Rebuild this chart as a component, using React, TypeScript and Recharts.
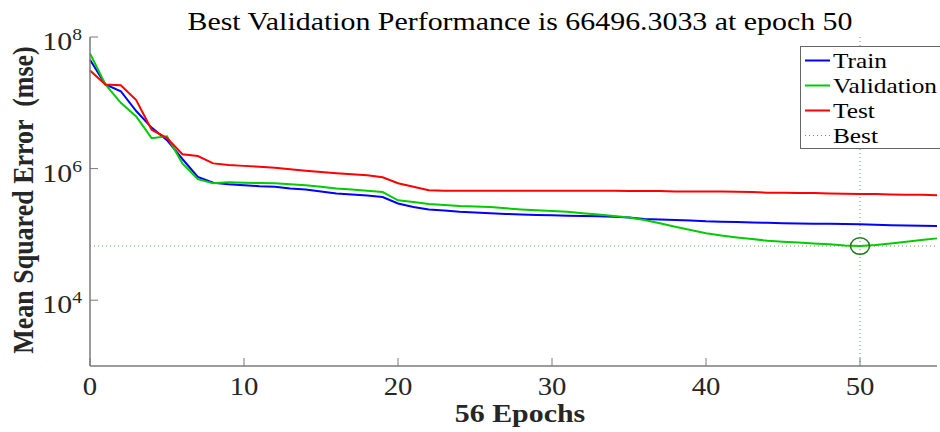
import React from 'react';
import { LineChart, Line, XAxis, YAxis, ReferenceLine, ReferenceDot, Legend, Customized } from 'recharts';

// MATLAB nntraining performance plot: mse per epoch (log scale)
const epochs = [
  0, 1, 2, 3, 4, 5, 6, 7, 8, 9, 10, 11, 12, 13, 14, 15, 16, 17, 18, 19, 20, 21, 22, 23, 24, 25, 26, 27,
  28, 29, 30, 31, 32, 33, 34, 35, 36, 37, 38, 39, 40, 41, 42, 43, 44, 45, 46, 47, 48, 49, 50, 51, 52, 53, 54, 55,
];
const trainMse = [
  4.5e7, 1.9e7, 1.5e7, 7.5e6, 4.2e6, 2.7e6, 1.4e6, 7.5e5, 6.1e5, 5.8e5, 5.6e5, 5.4e5, 5.3e5, 5.0e5,
  4.8e5, 4.5e5, 4.2e5, 4.05e5, 3.9e5, 3.7e5, 2.95e5, 2.6e5, 2.4e5, 2.3e5, 2.2e5, 2.15e5, 2.1e5, 2.05e5,
  2.0e5, 1.97e5, 1.95e5, 1.92e5, 1.9e5, 1.88e5, 1.86e5, 1.8e5, 1.71e5, 1.68e5, 1.66e5, 1.62e5, 1.58e5, 1.56e5,
  1.55e5, 1.52e5, 1.5e5, 1.48e5, 1.46e5, 1.45e5, 1.45e5, 1.44e5, 1.43e5, 1.4e5, 1.38e5, 1.36e5, 1.35e5, 1.34e5,
];
const validationMse = [
  5.6e7, 1.9e7, 1.0e7, 6.2e6, 2.9e6, 3.1e6, 1.2e6, 6.9e5, 6.0e5, 6.2e5, 6.1e5, 6.05e5, 6.0e5, 5.8e5,
  5.6e5, 5.3e5, 5.0e5, 4.8e5, 4.6e5, 4.4e5, 3.3e5, 3.1e5, 2.9e5, 2.8e5, 2.7e5, 2.65e5, 2.6e5, 2.5e5,
  2.4e5, 2.33e5, 2.27e5, 2.2e5, 2.1e5, 2.0e5, 1.9e5, 1.8e5, 1.65e5, 1.48e5, 1.31e5, 1.17e5, 1.04e5, 9.6e4,
  9.0e4, 8.5e4, 8.0e4, 7.7e4, 7.5e4, 7.3e4, 7.1e4, 6.8e4, 66496.3033, 6.9e4, 7.3e4, 7.7e4, 8.2e4, 8.7e4,
];
const testMse = [
  3.1e7, 1.9e7, 1.85e7, 1.1e7, 3.9e6, 2.9e6, 1.65e6, 1.55e6, 1.2e6, 1.13e6, 1.1e6, 1.07e6, 1.03e6, 9.8e5,
  9.3e5, 8.9e5, 8.5e5, 8.2e5, 7.9e5, 7.4e5, 6.0e5, 5.3e5, 4.7e5, 4.6e5, 4.6e5, 4.6e5, 4.6e5, 4.6e5,
  4.6e5, 4.6e5, 4.6e5, 4.6e5, 4.6e5, 4.6e5, 4.6e5, 4.55e5, 4.55e5, 4.55e5, 4.5e5, 4.5e5, 4.5e5, 4.5e5,
  4.45e5, 4.4e5, 4.3e5, 4.3e5, 4.25e5, 4.25e5, 4.2e5, 4.15e5, 4.1e5, 4.1e5, 4.05e5, 4.0e5, 4.0e5, 3.95e5,
];
const bestEpoch = 50;
const bestValue = 66496.3033;
const xTicks = [0, 10, 20, 30, 40, 50];
const yTicks = [1e4, 1e6, 1e8];
const legendLabels = ['Train', 'Validation', 'Test', 'Best'];

const data = epochs.map((epoch, i) => ({
  epoch,
  train: trainMse[i],
  validation: validationMse[i],
  test: testMse[i],
}));

const SERIF = '"Liberation Serif", "Times New Roman", serif';
const STRETCH = 1.15; // the source image is a bit wider than tall
const AXIS = '#7a7a7a';
const INK = '#262626';
const colors = { train: '#0000ff', validation: '#00cc00', test: '#ff0000', best: '#4daf4a' };

const XTick = (props: any) => {
  const { x, y, payload } = props;
  return (
    <g transform={`translate(${x},${y}) scale(${STRETCH},1)`}>
      <text x={0} y={29} textAnchor="middle" fontFamily={SERIF} fontSize={25} fill={INK}>
        {payload.value}
      </text>
    </g>
  );
};

const YTick = (props: any) => {
  const { x, y, payload } = props;
  const exp = Math.round(Math.log10(payload.value));
  return (
    <g transform={`translate(${x},${y}) scale(${STRETCH},1)`}>
      <text x={0} y={13} textAnchor="end" fontFamily={SERIF} fill={INK}>
        <tspan fontSize={26}>10</tspan>
        <tspan fontSize={17} dy={-10}>{exp}</tspan>
      </text>
    </g>
  );
};

const Titles = () => (
  <g>
    <g transform={`translate(520,30) scale(${STRETCH},1)`}>
      <text textAnchor="middle" fontFamily={SERIF} fontSize={26} fill="#000">
        Best Validation Performance is 66496.3033 at epoch 50
      </text>
    </g>
    <g transform={`translate(520,422) scale(${STRETCH},1)`}>
      <text textAnchor="middle" fontFamily={SERIF} fontSize={26} fontWeight="bold" fill={INK}>
        56 Epochs
      </text>
    </g>
    <g transform={`translate(33,200) scale(${STRETCH},1) rotate(-90)`}>
      <text textAnchor="middle" fontFamily={SERIF} fontSize={26} fontWeight="bold" fill={INK} style={{ whiteSpace: 'pre' }}>
        {'Mean Squared Error  (mse)'}
      </text>
    </g>
  </g>
);

const legendStroke = [colors.train, colors.validation, colors.test, colors.best];

const renderLegend = () => (
  <div
    style={{
      boxSizing: 'border-box',
      width: 141,
      height: 103,
      paddingTop: 1,
      border: '1px solid #666',
      background: '#fff',
    }}
  >
    {legendLabels.map((label, i) => (
      <div key={label} style={{ height: 25, display: 'flex', alignItems: 'center' }}>
        <svg width={30} height={25} style={{ flex: 'none' }}>
          <line
            x1={4}
            x2={29}
            y1={12.5}
            y2={12.5}
            stroke={legendStroke[i]}
            strokeWidth={label === 'Best' ? 1 : 2}
            strokeDasharray={label === 'Best' ? '1 3' : undefined}
          />
        </svg>
        <span
          style={{
            display: 'inline-block',
            marginLeft: 2,
            fontFamily: SERIF,
            fontSize: 22,
            lineHeight: '25px',
            color: '#000',
            transform: `scaleX(${STRETCH})`,
            transformOrigin: 'left center',
            whiteSpace: 'nowrap',
          }}
        >
          {label}
        </span>
      </div>
    ))}
  </div>
);

const BestCircle = (props: any) => {
  const { cx, cy } = props;
  return <ellipse cx={cx} cy={cy} rx={9.5} ry={8.3} fill="none" stroke="#1b7a1b" strokeWidth={1.5} />;
};

export default function App() {
  return (
    <div style={{ position: 'absolute', left: 0, top: 0, width: 940, height: 432, overflow: 'hidden', background: '#fff' }}>
      <LineChart width={940} height={432} data={data} margin={{ top: 37, right: 3, left: 30, bottom: 36 }}>
        <XAxis
          dataKey="epoch"
          type="number"
          domain={[0, 55]}
          ticks={xTicks}
          height={30}
          stroke={AXIS}
          tickSize={-8}
          tickMargin={8}
          tick={<XTick />}
          axisLine={{ stroke: AXIS, strokeWidth: 1.5 }}
          tickLine={{ stroke: AXIS }}
        />
        <YAxis
          type="number"
          scale="log"
          domain={[1e3, 1e8]}
          ticks={yTicks}
          allowDataOverflow
          width={60}
          stroke={AXIS}
          tickSize={-8}
          tickMargin={16}
          tick={<YTick />}
          axisLine={{ stroke: AXIS, strokeWidth: 1.5 }}
          tickLine={{ stroke: AXIS }}
        />
        <ReferenceLine y={bestValue} stroke={colors.best} strokeDasharray="1 3" strokeWidth={1} />
        <ReferenceLine x={bestEpoch} stroke={colors.best} strokeDasharray="1 3" strokeWidth={1} />
        <Line type="linear" dataKey="train" stroke={colors.train} strokeWidth={2} dot={false} isAnimationActive={false} />
        <Line type="linear" dataKey="validation" stroke={colors.validation} strokeWidth={2} dot={false} isAnimationActive={false} />
        <Line type="linear" dataKey="test" stroke={colors.test} strokeWidth={2} dot={false} isAnimationActive={false} />
        <ReferenceDot x={bestEpoch} y={bestValue} shape={<BestCircle />} />
        <Legend
          layout="horizontal"
          verticalAlign="middle"
          align="center"
          wrapperStyle={{ left: 800, top: 46, width: 141, height: 103 }}
          content={renderLegend}
        />
        <Customized component={Titles} />
      </LineChart>
    </div>
  );
}
